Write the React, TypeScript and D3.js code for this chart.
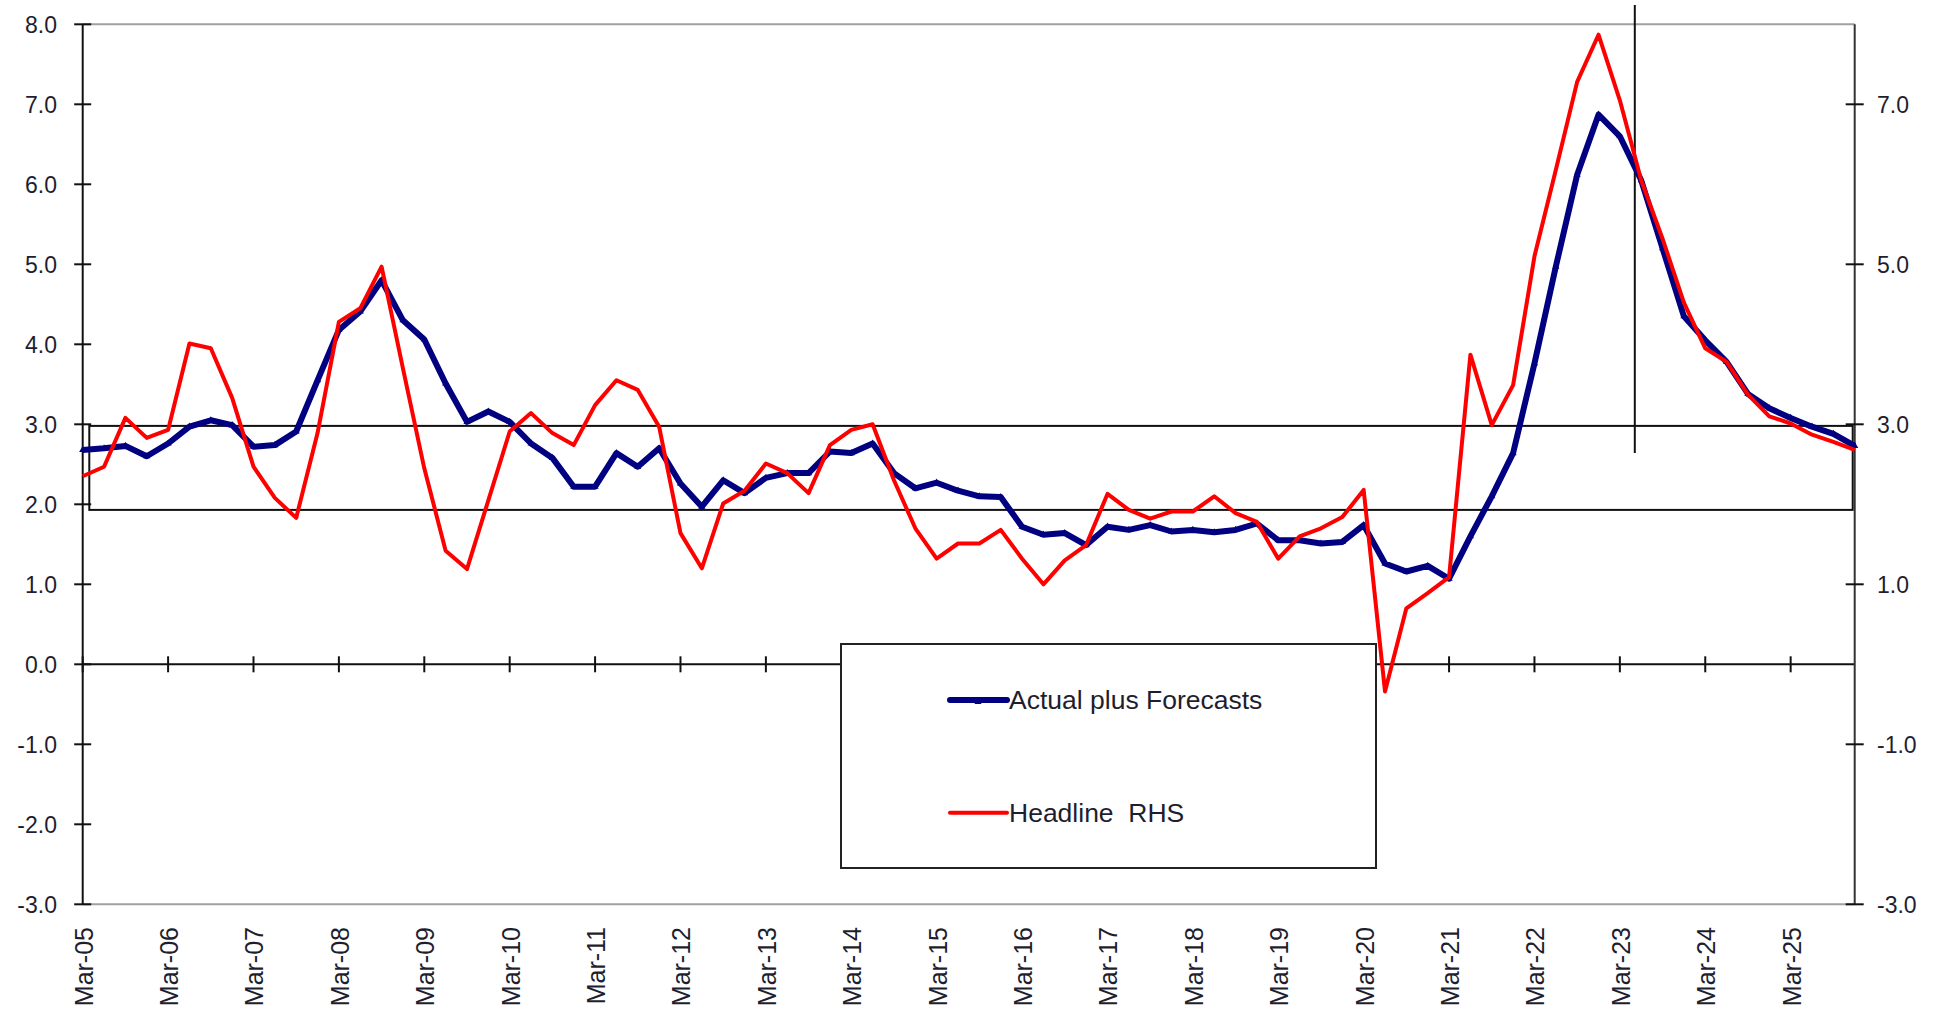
import React from "react";
import * as d3 from "d3";

// Quarterly categories Mar-05 .. Dec-25
const years = ["05","06","07","08","09","10","11","12","13","14","15","16","17","18","19","20","21","22","23","24","25"];
const months = ["Mar", "Jun", "Sep", "Dec"];
const quarters: string[] = years.flatMap((yy) => months.map((m) => `${m}-${yy}`));

const tickLabels = ["Mar-05","Mar-06","Mar-07","Mar-08","Mar-09","Mar-10","Mar-11","Mar-12","Mar-13","Mar-14","Mar-15","Mar-16","Mar-17","Mar-18","Mar-19","Mar-20","Mar-21","Mar-22","Mar-23","Mar-24","Mar-25"];

const actualPlusForecasts = [
  2.68, 2.70, 2.73, 2.60, 2.76, 2.97, 3.05, 2.99, 2.72, 2.74, 2.91, 3.55,
  4.18, 4.41, 4.80, 4.30, 4.06, 3.51, 3.03, 3.16, 3.03, 2.76, 2.58, 2.22,
  2.22, 2.64, 2.47, 2.70, 2.26, 1.97, 2.30, 2.14, 2.33, 2.39, 2.39, 2.66,
  2.64, 2.76, 2.39, 2.20, 2.27, 2.17, 2.10, 2.09, 1.72, 1.62, 1.64, 1.49,
  1.72, 1.68, 1.74, 1.66, 1.68, 1.65, 1.68, 1.76, 1.55, 1.55, 1.51, 1.53,
  1.74, 1.26, 1.16, 1.23, 1.07, 1.60, 2.10, 2.64, 3.76, 4.97, 6.12, 6.87,
  6.60, 6.05, 5.20, 4.35, 4.05, 3.78, 3.38, 3.20, 3.08, 2.97, 2.88, 2.73,
];

const headlineRHS = [
  2.35, 2.47, 3.08, 2.83, 2.93, 4.01, 3.95, 3.33, 2.47, 2.08, 1.83, 2.89,
  4.28, 4.45, 4.97, 3.70, 2.45, 1.42, 1.19, 2.05, 2.91, 3.14, 2.89, 2.74,
  3.24, 3.55, 3.43, 2.97, 1.64, 1.20, 2.01, 2.17, 2.51, 2.39, 2.14, 2.74,
  2.93, 3.00, 2.30, 1.70, 1.32, 1.51, 1.51, 1.68, 1.32, 1.00, 1.30, 1.49,
  2.13, 1.93, 1.82, 1.91, 1.91, 2.10, 1.89, 1.78, 1.32, 1.60, 1.70, 1.84,
  2.18, -0.34, 0.70, 0.89, 1.09, 3.87, 2.99, 3.49, 5.10, 6.18, 7.28, 7.87,
  7.05, 6.05, 5.32, 4.52, 3.95, 3.78, 3.37, 3.10, 3.01, 2.87, 2.78, 2.68,
];

const leftTicks = [8, 7, 6, 5, 4, 3, 2, 1, 0, -1, -2, -3];
const rightTicks = [7, 5, 3, 1, -1, -3];
const band = [1.93, 2.98];
const markerIndex = 72.7; // vertical divider between actual and forecast
const seriesNames = ["Actual plus Forecasts", "Headline  RHS"];

export default function App() {
  const W = 1937, H = 1011;
  const x = d3.scaleLinear().domain([0, quarters.length - 1]).range([82.7, 1854.7]);
  const y = d3.scaleLinear().domain([-3, 8]).range([904.3, 24.3]);
  const yR = d3.scaleLinear().domain([-3, 8]).range([904.3, 24.3]);
  const xL = x(0), xR = x(quarters.length - 1);
  const font = "'Liberation Sans', Arial, sans-serif";
  const txt = "#1e1e2e";
  const fmt = (t: number) => t.toFixed(1);

  const lineL = d3.line<number>().x((_, i) => x(i)).y((d) => y(d));
  const lineR = d3.line<number>().x((_, i) => x(i)).y((d) => yR(d));
  const tri = d3.symbol().type(d3.symbolTriangle).size(22)();

  const y0 = y(0);

  return (
    <svg width={W} height={H} style={{ position: "absolute", left: 0, top: 0, background: "#fff" }}>
      <rect x={0} y={0} width={W} height={H} fill="#fff" />
      {/* top & bottom frame lines */}
      <line x1={xL} x2={xR} y1={y(8)} y2={y(8)} stroke="#a0a0a0" strokeWidth={2} />
      <line x1={xL} x2={xR} y1={y(-3)} y2={y(-3)} stroke="#a0a0a0" strokeWidth={2} />

      {/* band rectangle */}
      <rect x={xL + 6.6} y={y(band[1])} width={xR - 2 - (xL + 6.6)} height={y(band[0]) - y(band[1])}
        fill="none" stroke="#111" strokeWidth={2} />

      {/* zero axis with year ticks */}
      <line x1={xL} x2={xR} y1={y0} y2={y0} stroke="#111" strokeWidth={2} />
      {tickLabels.map((lab) => {
        const xi = x(quarters.indexOf(lab));
        return <line key={lab} x1={xi} x2={xi} y1={y0 - 8} y2={y0 + 8} stroke="#111" strokeWidth={2} />;
      })}

      {/* left axis */}
      <line x1={xL} x2={xL} y1={y(8)} y2={y(-3)} stroke="#111" strokeWidth={2} />
      {leftTicks.map((t) => (
        <g key={"l" + t}>
          <line x1={xL - 8.5} x2={xL + 8.5} y1={y(t)} y2={y(t)} stroke="#111" strokeWidth={2} />
          <text x={57} y={y(t) + 8.3} textAnchor="end" fontFamily={font} fontSize={23} fill={txt}>
            {fmt(t)}
          </text>
        </g>
      ))}

      {/* right axis */}
      <line x1={xR} x2={xR} y1={y(8)} y2={y(-3)} stroke="#333" strokeWidth={2} />
      {rightTicks.map((t) => (
        <g key={"r" + t}>
          <line x1={xR - 9} x2={xR + 9} y1={yR(t)} y2={yR(t)} stroke="#111" strokeWidth={2} />
          <text x={1877} y={yR(t) + 8.3} textAnchor="start" fontFamily={font} fontSize={23} fill={txt}>
            {fmt(t)}
          </text>
        </g>
      ))}

      {/* x labels */}
      {tickLabels.map((lab) => {
        const xi = x(quarters.indexOf(lab)) + 10;
        return (
          <text key={"t" + lab} transform={`translate(${xi},927) rotate(-90)`} textAnchor="end"
            fontFamily={font} fontSize={25} fill={txt}>
            {lab}
          </text>
        );
      })}

      {/* vertical divider */}
      <line x1={x(markerIndex)} x2={x(markerIndex)} y1={5} y2={453} stroke="#111" strokeWidth={2} />

      {/* series */}
      <path d={lineL(actualPlusForecasts) || ""} fill="none" stroke="#000080" strokeWidth={6} strokeLinejoin="round" />
      {actualPlusForecasts.map((v, i) => (
        <path key={"m" + i} d={tri || ""} transform={`translate(${x(i)},${y(v)})`} fill="#000080" />
      ))}
      <path d={lineR(headlineRHS) || ""} fill="none" stroke="#ff0000" strokeWidth={4} strokeLinejoin="round" />

      {/* legend */}
      <rect x={841} y={644} width={535} height={224} fill="#fff" stroke="#222" strokeWidth={2} />
      <line x1={950} x2={1007} y1={700} y2={700} stroke="#000080" strokeWidth={6} strokeLinecap="round" />
      <path d={tri || ""} transform="translate(978,702)" fill="#000080" />
      <text x={1009} y={708.5} fontFamily={font} fontSize={26.5} fill={txt} style={{ whiteSpace: "pre" }}>
        {seriesNames[0]}
      </text>
      <line x1={950} x2={1007} y1={812.7} y2={812.7} stroke="#ff0000" strokeWidth={4} strokeLinecap="round" />
      <text x={1009} y={821.5} fontFamily={font} fontSize={26.5} fill={txt} style={{ whiteSpace: "pre" }}>
        {seriesNames[1]}
      </text>
    </svg>
  );
}
